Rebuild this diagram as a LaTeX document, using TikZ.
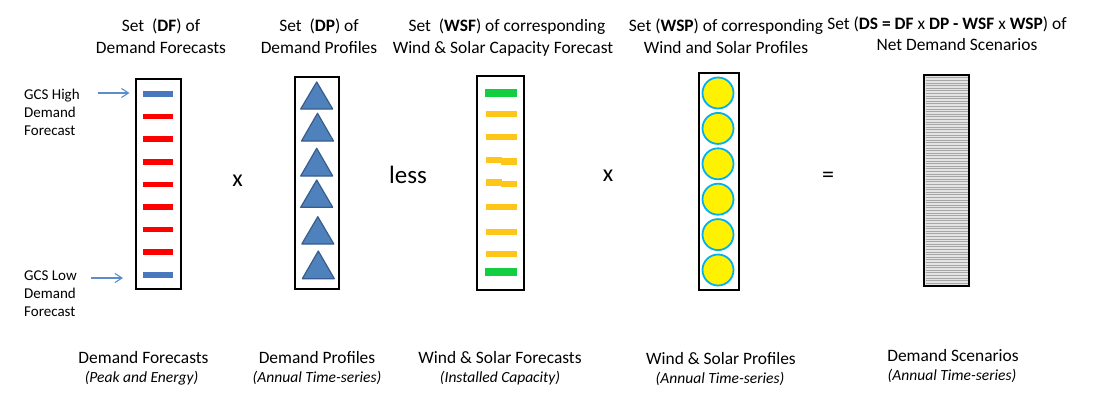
\documentclass[tikz,border=0pt]{standalone}
\usepackage{fontspec}
\setmainfont{Carlito}
\usetikzlibrary{arrows.meta}
\definecolor{dfblue}{RGB}{74,120,190}
\definecolor{dfred}{RGB}{255,0,0}
\definecolor{trifill}{RGB}{79,129,189}
\definecolor{triline}{RGB}{56,93,138}
\definecolor{wgreen}{RGB}{18,206,64}
\definecolor{wyellow}{RGB}{255,198,26}
\definecolor{cfill}{RGB}{255,242,0}
\definecolor{cline}{RGB}{0,176,240}
\definecolor{arrowblue}{RGB}{91,140,205}
\begin{document}
\begin{tikzpicture}[x=1pt,y=-1pt,
  box/.style={draw=black, line width=2.6pt, inner sep=0pt, outer sep=0pt, fill=white},
  hdr/.style={anchor=base, inner sep=0pt, font=\fontsize{17.4}{21}\selectfont},
  sub/.style={anchor=base, inner sep=0pt, font=\fontsize{15.5}{18}\selectfont\itshape},
  gcs/.style={anchor=base west, inner sep=0pt, font=\fontsize{15}{18}\selectfont},
  op/.style={inner sep=0pt, font=\fontsize{24}{28}\selectfont},
  bar/.style={inner sep=0pt, outer sep=0pt, minimum height=5.5pt, minimum width=30pt},
  wbar/.style={inner sep=0pt, outer sep=0pt, minimum height=6.5pt, minimum width=31pt, fill=wyellow},
  gbar/.style={inner sep=0pt, outer sep=0pt, minimum height=8pt, minimum width=32pt, fill=wgreen},
  tri/.style={fill=trifill, draw=triline, line width=1.2pt, line join=round},
  circ/.style={circle, inner sep=0pt, outer sep=0pt, minimum size=31pt, fill=cfill, draw=cline, line width=1.8pt},
  hatch/.style={gray!70, line width=0.9pt},
  gcsarrow/.style={draw=arrowblue, line width=1.1pt, -{Straight Barb[length=7pt,width=9pt]}}
]
\useasboundingbox (0,0) rectangle (1100,410);

% ---------- headers ----------
\node[hdr] (h1a) at (161,31.5) {Set\hspace{0.45em}(\textbf{DF}) of};
\node[hdr] (h1b) at (161,53) {Demand Forecasts};
\node[hdr] (h2a) at (319,31.5) {Set\hspace{0.45em}(\textbf{DP}) of};
\node[hdr] (h2b) at (319,53) {Demand Profiles};
\node[hdr] (h3a) at (507,31.5) {Set\hspace{0.45em}(\textbf{WSF}) of corresponding};
\node[hdr] (h3b) at (503,53) {Wind \& Solar Capacity Forecast};
\node[hdr] (h4a) at (726,31.5) {Set (\textbf{WSP}) of corresponding};
\node[hdr] (h4b) at (726,53) {Wind and Solar Profiles};
\node[hdr] (h5a) at (947,29) {Set (\textbf{DS = DF} x \textbf{DP - WSF} x \textbf{WSP}) of};
\node[hdr] (h5b) at (957,50) {Net Demand Scenarios};

% ---------- box 1: demand forecasts ----------
\node[box, minimum width=45pt, minimum height=210pt] (df) at (158.5,184) {};
\foreach \y/\c [count=\i] in {94/dfblue,116.6/dfred,139.2/dfred,161.8/dfred,184.4/dfred,207/dfred,229.6/dfred,252.2/dfred,274.8/dfblue}
  \node[bar, fill=\c] (dfbar\i) at (158,\y) {};

\node[gcs] (gh1) at (24,99) {GCS High};
\node[gcs] (gh2) at (24,117.5) {Demand};
\node[gcs] (gh3) at (24,135.5) {Forecast};
\node[gcs] (gl1) at (24,280) {GCS Low};
\node[gcs] (gl2) at (24,298.5) {Demand};
\node[gcs] (gl3) at (24,316.5) {Forecast};
\coordinate (hiS) at (98,93);
\coordinate (hiE) at (129.5,93);
\coordinate (loS) at (91,278);
\coordinate (loE) at (123,278);
\draw[gcsarrow] (hiS) -- (hiE);
\draw[gcsarrow] (loS) -- (loE);

% ---------- box 2: demand profiles ----------
\node[box, minimum width=44pt, minimum height=212pt] (dp) at (317,183) {};
\foreach \cx/\ya/\yb in {316.7/82/109, 317.5/113.3/141, 316.7/148.3/176, 316.7/180/207.3, 317.8/216.7/244, 318.3/251/278.7}
  \draw[tri] ({\cx-16},\yb) -- (\cx,\ya) -- ({\cx+16},\yb) -- cycle;

% ---------- box 3: wind & solar forecasts ----------
\node[box, minimum width=47pt, minimum height=214pt] (wsf) at (500.5,183) {};
\node[gbar] (wb1) at (501,93) {};
\node[wbar] (wb2) at (501.5,114) {};
\node[wbar] (wb3) at (501.5,137) {};
\node[wbar, minimum width=16pt] (wb4a) at (494,160) {};
\node[wbar, minimum width=16pt] (wb4b) at (509,161.3) {};
\node[wbar, minimum width=16pt] (wb5a) at (494,182.5) {};
\node[wbar, minimum width=16pt] (wb5b) at (509,183.8) {};
\node[wbar] (wb6) at (501.5,207) {};
\node[wbar] (wb7) at (501.5,232) {};
\node[wbar] (wb8) at (501.5,254) {};
\node[gbar] (wb9) at (501,272) {};

% ---------- box 4: wind & solar profiles ----------
\node[box, minimum width=40pt, minimum height=217pt] (wsp) at (719,181.5) {};
\foreach \y [count=\i] in {93,128.4,163.8,199.2,234.6,270}
  \node[circ] (c\i) at (718,\y) {};

% ---------- box 5: demand scenarios ----------
\node[box, fill=gray!22, minimum width=45pt, minimum height=211pt] (ds) at (946.5,180.5) {};
\foreach \y in {77.8,80.4,...,284}
  \draw[hatch] (925.5,\y) -- (967.5,\y);
\draw[black, line width=2.6pt] (ds.north west) rectangle (ds.south east);

% ---------- operators ----------
\node[op] (op1) at (237.5,181) {x};
\node[op, font=\fontsize{25}{28}\selectfont] (op2) at (408,175) {less};
\node[op] (op3) at (608,176) {x};
\node[op] (op4) at (828,177) {=};

% ---------- bottom labels ----------
\node[hdr] (b1a) at (143.5,363) {Demand Forecasts};
\node[sub] (b1b) at (141.5,382) {(Peak and Energy)};
\node[hdr] (b2a) at (317,363) {Demand Profiles};
\node[sub] (b2b) at (317,382) {(Annual Time-series)};
\node[hdr] (b3a) at (500,363) {Wind \& Solar Forecasts};
\node[sub] (b3b) at (500,382) {(Installed Capacity)};
\node[hdr] (b4a) at (721,364) {Wind \& Solar Profiles};
\node[sub] (b4b) at (720,383) {(Annual Time-series)};
\node[hdr] (b5a) at (953,361) {Demand Scenarios};
\node[sub] (b5b) at (952,380) {(Annual Time-series)};
\end{tikzpicture}
\end{document}
